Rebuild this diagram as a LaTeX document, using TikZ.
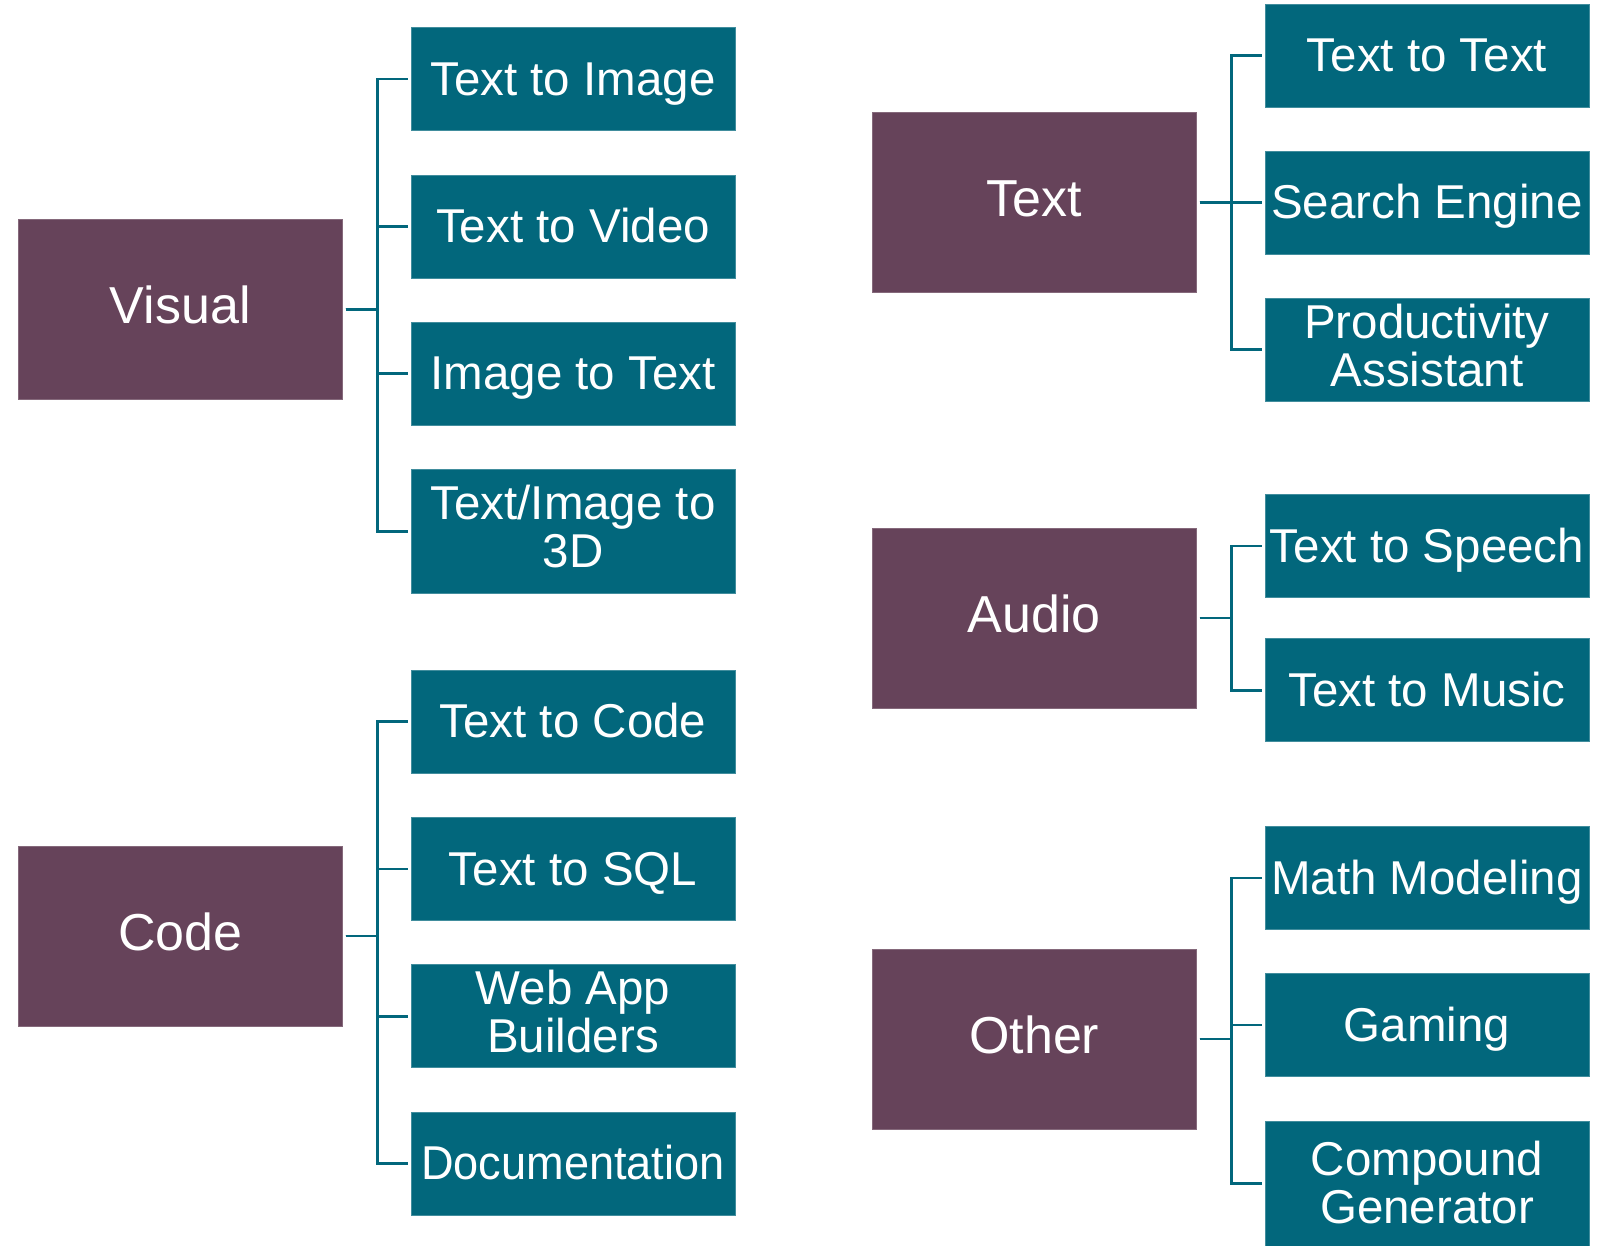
\documentclass[tikz,border=0pt]{standalone}
\usepackage{fontspec}
\setmainfont{Liberation Sans}
\definecolor{teal1}{HTML}{02677C}
\definecolor{plum1}{HTML}{66435A}
\begin{document}
\begin{tikzpicture}[x=1pt,y=-1pt,
  parent/.style={rectangle, fill=plum1, draw=plum1!80!white, line width=0.6pt, inner sep=0pt,
    minimum width=324pt, minimum height=180pt, text=white, align=center,
    text height=29pt, text depth=0pt,
    font=\fontsize{52}{52}\selectfont},
  child/.style={rectangle, fill=teal1, draw=teal1!75!white, line width=0.6pt, inner sep=0pt,
    minimum width=324pt, minimum height=103pt, text=white, align=center,
    text height=32pt, text depth=0pt,
    font=\fontsize{47.5}{48}\selectfont},
  twoline/.style={text height=73pt, text depth=0pt},
  conn/.style={draw=teal1, line width=2.7pt}
]
\useasboundingbox (0,0) rectangle (1601,1246);

% Left column parents
\node[parent] (V) at (180.3,309.5) {Visual};
\node[parent] (C) at (180.3,936) {Code};
% Left children
\node[child] (v1) at (573,79.1) {Text to Image};
\node[child] (v2) at (573,226.5) {Text to Video};
\node[child] (v3) at (573,373.5) {Image to Text};
\node[child, twoline, minimum height=124pt] (v4) at (573,531.4) {Text/Image to\\3D};
\node[child] (c1) at (573,721.5) {Text to Code};
\node[child] (c2) at (573,869) {Text to SQL};
\node[child, twoline] (c3) at (573,1016.2) {Web App\\Builders};
\node[child] (c4) at (573,1163.8) {\scalebox{0.95}[1]{Documentation}};

% Right column parents
\node[parent] (T) at (1034.2,202.5) {Text};
\node[parent] (A) at (1034.2,618) {Audio};
\node[parent] (O) at (1034.2,1039) {Other};
% Right children
\node[child] (t1) at (1427,55.6) {Text to Text};
\node[child] (t2) at (1427,202.7) {Search Engine};
\node[child, twoline] (t3) at (1427,349.7) {Productivity\\Assistant};
\node[child] (a1) at (1427,546) {Text to Speech};
\node[child] (a2) at (1427,690.2) {Text to Music};
\node[child] (o1) at (1427,878) {Math Modeling};
\node[child] (o2) at (1427,1025) {Gaming};
\node[child, twoline, text height=80pt, minimum height=125pt] (o3) at (1427,1183.5) {Compound\\Generator};

% Connectors
\foreach \p/\c in {V/v1,V/v2,V/v3,V/v4,C/c1,C/c2,C/c3,C/c4,T/t1,T/t2,T/t3,A/a1,A/a2,O/o1,O/o2,O/o3}{
  \draw[conn] ([xshift=3pt]\p.east) -- ++(32,0) |- ([xshift=-3pt]\c.west);
}
\end{tikzpicture}
\end{document}
